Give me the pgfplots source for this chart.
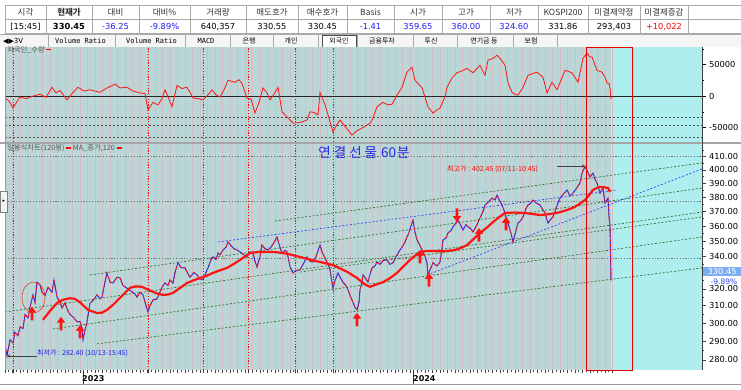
\documentclass[border=0pt]{standalone}
\usepackage{pgfplots}
\pgfplotsset{compat=1.18}
\usetikzlibrary{arrows.meta}
\usepackage{fontspec}
\setmainfont{DejaVu Sans}
\newfontfamily\kr{Noto Sans CJK KR}
\newfontfamily\mono{DejaVu Sans Mono}
\definecolor{bgL}{RGB}{186,214,214}
\definecolor{bgR}{RGB}{175,238,238}
\definecolor{gridp}{RGB}{212,190,198}
\definecolor{pblue}{RGB}{20,40,255}
\definecolor{pred}{RGB}{255,20,20}
\definecolor{gdash}{RGB}{50,115,50}
\definecolor{bdash}{RGB}{50,70,240}
\definecolor{ttl}{RGB}{40,40,230}
\definecolor{hdrtxt}{RGB}{50,50,50}
\definecolor{valblue}{RGB}{30,30,235}
\definecolor{boxblue}{RGB}{125,172,240}
\definecolor{tblc}{RGB}{170,170,170}
\newcommand\tickfont{\fontsize{8.3}{9}\selectfont}
\newcommand\hf{\kr\fontsize{8.5}{9}\selectfont\color{hdrtxt}}
\newcommand\vf{\fontsize{8.3}{9}\selectfont}
\newcommand\tf{\fontsize{7}{8}\selectfont}
\pgfdeclareplotmark{uarr}{%
 \pgfpathmoveto{\pgfpoint{0pt}{0pt}}%
 \pgfpathlineto{\pgfpoint{4.2pt}{-5.8pt}}%
 \pgfpathlineto{\pgfpoint{1.4pt}{-5.8pt}}%
 \pgfpathlineto{\pgfpoint{1.4pt}{-13.5pt}}%
 \pgfpathlineto{\pgfpoint{-1.4pt}{-13.5pt}}%
 \pgfpathlineto{\pgfpoint{-1.4pt}{-5.8pt}}%
 \pgfpathlineto{\pgfpoint{-4.2pt}{-5.8pt}}%
 \pgfpathclose\pgfusepathqfill}
\pgfdeclareplotmark{darr}{%
 \pgfpathmoveto{\pgfpoint{0pt}{0pt}}%
 \pgfpathlineto{\pgfpoint{4.2pt}{5.8pt}}%
 \pgfpathlineto{\pgfpoint{1.4pt}{5.8pt}}%
 \pgfpathlineto{\pgfpoint{1.4pt}{13.5pt}}%
 \pgfpathlineto{\pgfpoint{-1.4pt}{13.5pt}}%
 \pgfpathlineto{\pgfpoint{-1.4pt}{5.8pt}}%
 \pgfpathlineto{\pgfpoint{-4.2pt}{5.8pt}}%
 \pgfpathclose\pgfusepathqfill}
\begin{document}
\begin{tikzpicture}
\path[use as bounding box, fill=white] (0pt,0pt) rectangle (741pt,-389pt);
% ---------- top table ----------
\draw[tblc, line width=0.6pt] (5pt,-5pt) rectangle (741pt,-33pt);
\draw[tblc, line width=0.6pt] (5pt,-19pt) -- (741pt,-19pt);
\foreach \x in {46,92,139,190,246,298,347,394,442,490,538,588,640,688}
  {\draw[tblc, line width=0.6pt] (\x pt,-5pt) -- (\x pt,-33pt);}
\node at (25.5pt,-12pt) {\hf 시각};
\node at (69pt,-12pt) {\hf\bfseries 현재가};
\node at (115.5pt,-12pt) {\hf 대비};
\node at (164.5pt,-12pt) {\hf 대비\%};
\node at (218pt,-12pt) {\hf 거래량};
\node at (272pt,-12pt) {\hf 매도호가};
\node at (322.5pt,-12pt) {\hf 매수호가};
\node at (370.5pt,-12pt) {\hf Basis};
\node at (418pt,-12pt) {\hf 시가};
\node at (466pt,-12pt) {\hf 고가};
\node at (514pt,-12pt) {\hf 저가};
\node at (563pt,-12pt) {\hf KOSPI200};
\node at (614pt,-12pt) {\hf 미결제약정};
\node at (664pt,-12pt) {\hf 미결제증감};
\node at (25.5pt,-26.5pt) {\vf [15:45]};
\node at (69pt,-26.5pt) {\vf\bfseries 330.45};
\node[text=valblue] at (115.5pt,-26.5pt) {\vf -36.25};
\node[text=valblue] at (164.5pt,-26.5pt) {\vf -9.89\%};
\node at (218pt,-26.5pt) {\vf 640,357};
\node at (272pt,-26.5pt) {\vf 330.55};
\node at (322.5pt,-26.5pt) {\vf 330.45};
\node[text=valblue] at (370.5pt,-26.5pt) {\vf -1.41};
\node[text=valblue] at (418pt,-26.5pt) {\vf 359.65};
\node[text=valblue] at (466pt,-26.5pt) {\vf 360.00};
\node[text=valblue] at (514pt,-26.5pt) {\vf 324.60};
\node at (563pt,-26.5pt) {\vf 331.86};
\node at (614pt,-26.5pt) {\vf 293,403};
\node[text=red] at (664pt,-26.5pt) {\vf +10,022};
% ---------- tab row ----------
\fill[black!4] (0pt,-34.5pt) rectangle (741pt,-47pt);
\draw[tblc, line width=0.6pt] (0pt,-34.5pt) -- (741pt,-34.5pt);
\foreach \x in {48,115,185,230,273,318,357,413,457,513,557}
  {\draw[tblc, line width=0.6pt] (\x pt,-35pt) -- (\x pt,-47pt);}
\draw[black!70, fill=white, line width=0.6pt] (322pt,-35.5pt) rectangle (356pt,-47pt);
\node[anchor=west, inner sep=0pt] at (3pt,-41pt) {\tf ◀▶3V};
\node at (80.5pt,-41pt) {\mono\tf Volume Ratio};
\node at (151.5pt,-41pt) {\mono\tf Volume Ratio};
\node at (206pt,-41pt) {\mono\tf MACD};
\node at (249pt,-41pt) {\kr\tf 은행};
\node at (291pt,-41pt) {\kr\tf 개인};
\node at (339pt,-41pt) {\kr\tf 외국인};
\node at (382pt,-41pt) {\kr\tf 금융투자};
\node at (431pt,-41pt) {\kr\tf 투신};
\node at (484pt,-41pt) {\kr\tf 연기금 등};
\node at (531pt,-41pt) {\kr\tf 보험};
% ---------- panel backgrounds ----------
\fill[bgL] (5pt,-47pt) rectangle (611pt,-142pt);
\fill[bgR] (611pt,-47pt) rectangle (702pt,-142pt);
\fill[black!35] (0pt,-142pt) rectangle (741pt,-144pt);
\fill[bgL] (5pt,-144pt) rectangle (611pt,-370pt);
\fill[bgR] (611pt,-144pt) rectangle (702pt,-370pt);
% ---------- upper panel: foreign volume ----------
\begin{axis}[
 at={(5pt,-142pt)}, anchor=south west, scale only axis, width=697pt, height=95pt,
 xmin=5, xmax=702, ymin=-73000, ymax=78000,
 axis line style={draw=none},
 xtick={5,12.5,...,611}, xticklabels={}, xmajorgrids,
 x grid style={gridp, line width=0.55pt},
 xtick style={draw=none},
 extra x ticks={13,148,203,248,295,333}, extra x tick labels={},
 extra x tick style={grid=major, major x grid style={red, dash pattern=on 1.2pt off 1.6pt, line width=0.7pt}},
 ytick={-50000,0,50000}, yticklabels={-50000,0,50000},
 minor ytick={-75000,-25000,25000,75000},
 ytick pos=right, yticklabel pos=right, tick align=outside,
 y tick label style={font=\tickfont, text=black},
 ytick style={black, line width=0.6pt}, major tick length=3.5pt, minor tick length=2pt,
 scaled y ticks=false, clip=true,
]
\addplot[black!70, dash pattern=on 2pt off 2pt, line width=0.5pt] coordinates {(5,-33000) (702,-33000)};
\addplot[black!70, dash pattern=on 2pt off 2pt, line width=0.5pt] coordinates {(5,-46000) (702,-46000)};
\addplot[black!70, dash pattern=on 2pt off 2pt, line width=0.5pt] coordinates {(5,-65000) (702,-65000)};
\addplot[black!85, line width=0.8pt] coordinates {(5,0) (702,0)};
\addplot[pred, line width=0.8pt] coordinates {
(5,-3000) (9,-8000) (13,-19000) (17,-9000) (20,-1500) (26,-4000) (33,0) (40,3000) (46,-2000) (52,14000)
(56,5000) (60,9000) (67,-6000) (72,4000) (78,14000) (84,8000) (90,10000) (100,6000) (106,12000) (115,19000)
(120,13000) (127,14000) (133,8000) (140,5000) (145,4000) (148,-22000) (153,-10000) (158,-14000) (162,-4000)
(165,10000) (169,-5000) (172,-17000) (177,17000) (182,12000) (187,14000) (190,6000) (193,-3000) (198,-4000)
(203,-6000) (208,2000) (212,10000) (216,2000) (220,-1500) (224,10000) (228,25000) (235,22000) (239,26000)
(242,20000) (247,-3000) (251,-5000) (255,-27000) (259,-10000) (263,13000) (267,5000) (270,-6000) (274,3000)
(278,14000) (282,-25000) (287,-33000) (293,-43000) (300,-42000) (307,-38000) (310,-25000) (314,-26000)
(318,-30000) (320,6000) (325,-14000) (329,-35000) (333,-57000) (337,-45000) (340,-38000) (346,-50000)
(352,-62000) (357,-55000) (362,-51000) (366,-47000) (370,-43000) (373,-35000) (377,-17000) (383,-10000)
(388,-14000) (392,-13000) (397,1500) (402,14000) (407,38000) (412,46000) (415,25000) (418,20000) (422,13000)
(428,-17000) (433,-27000) (437,-22000) (440,-19000) (445,-1500) (447,14000) (452,29000) (457,37000)
(462,40000) (467,44000) (473,37000) (480,49000) (485,33000) (488,57000) (493,60000) (497,65000) (501,58000)
(505,49000) (508,21000) (512,6000) (515,3000) (518,1500) (523,14000) (528,33000) (533,36000) (537,38000)
(543,30000) (547,5000) (552,22000) (557,10000) (562,29000) (565,41000) (572,37000) (578,22000) (583,60000)
(587,68000) (590,62000) (592,62000) (597,41000) (602,38000) (605,30000) (607,21000) (609,20000) (610,13000)
(611,-5000)};
\end{axis}
% ---------- lower panel: price ----------
\begin{axis}[
 at={(5pt,-370pt)}, anchor=south west, scale only axis, width=697pt, height=226pt,
 xmin=5, xmax=702, ymode=log, ymin=274.8, ymax=419.9,
 axis line style={draw=none},
 xtick={5,12.5,...,611}, xticklabels={}, xmajorgrids,
 x grid style={gridp, line width=0.55pt},
 minor x tick num=1, xtick pos=left,
 extra x ticks={13,148,203,248,295,333}, extra x tick labels={},
 extra x tick style={grid=major, major x grid style={red, dash pattern=on 1.2pt off 1.6pt, line width=0.7pt}},
 ytick={280,290,...,410},
 yticklabels={280.00,290.00,300.00,310.00,320.00,330.00,340.00,350.00,360.00,370.00,380.00,390.00,400.00,410.00},
 minor ytick={285,295,...,415},
 ytick pos=right, yticklabel pos=right, tick align=outside,
 y tick label style={font=\tickfont, text=black},
 tick style={black!75, line width=0.6pt}, major tick length=3.5pt, minor tick length=2pt,
 clip=true,
]
% horizontal reference lines
\addplot[black!55, dash pattern=on 1.2pt off 1.6pt, line width=0.7pt] coordinates {(5,410) (702,410)};
\addplot[black!55, dash pattern=on 1.2pt off 1.6pt, line width=0.7pt] coordinates {(5,377) (702,377)};
\addplot[black!55, dash pattern=on 1.2pt off 1.6pt, line width=0.7pt] coordinates {(5,338.5) (702,338.5)};
% trend channel lines
\addplot[gdash, dash pattern=on 2pt off 1.8pt, line width=0.7pt] coordinates {(275,363.4) (702,405.2)};
\addplot[gdash, dash pattern=on 2pt off 1.8pt, line width=0.7pt] coordinates {(90,328.4) (702,386.6)};
\addplot[gdash, dash pattern=on 2pt off 1.8pt, line width=0.7pt] coordinates {(5,306.4) (702,369.6)};
\addplot[gdash, dash pattern=on 2pt off 1.8pt, line width=0.7pt] coordinates {(300,330.2) (702,366.2)};
\addplot[gdash, dash pattern=on 2pt off 1.8pt, line width=0.7pt] coordinates {(53,296.8) (702,352.7)};
\addplot[gdash, dash pattern=on 2pt off 1.8pt, line width=0.7pt] coordinates {(97,288.6) (702,332.8)};
\addplot[bdash, dash pattern=on 2pt off 1.8pt, line width=0.7pt] coordinates {(218,349.4) (617,385.2)};
\addplot[bdash, dash pattern=on 2pt off 1.8pt, line width=0.7pt] coordinates {(427,328.4) (702,400.7)};
% price line
\pgfplotstableread{
x y
5 288
7 282.4
10 290.8
13 289
15 295
18 293
20 298
23 297
25 305
28 303
30 309
33 316.4
35 312
37 324
40 322.4
42 318
45 316
48 321
50 319.4
52 318
54 325.4
57 315
60 312
62 308.7
65 311.6
68 307
70 305
74 303
77 300.8
80 301
82 297.4
83 290.8
85 296
87 300.8
90 311.6
93 313
97 316.4
100 314
102 315
105 324
107 329.7
110 324
113 323.5
117 327
120 326.6
123 322
125 321.2
128 320
132 318.2
135 317
137 315
140 318
143 316.4
146 310
148 306.4
150 310
153 313.4
157 314
160 318.2
163 322
165 323.5
168 322
170 325.4
173 323.5
175 330
178 336
181 333
185 332.8
188 329
190 327
194 330
197 328.4
200 326
203 325.4
206 330
208 332.8
211 338
213 339.7
216 338
218 342.2
220 341
223 344.2
226 346
228 349.4
231 347
234 345
237 344.2
240 343
244 341
247 339.7
250 343
253 342
255 337
257 333.4
260 340
262 347.4
265 345
268 344.2
271 346
274 349
277 352.7
280 346
282 342
285 344
287 343
290 333.4
293 329.7
296 331
300 331.6
303 335
307 339.7
310 337
313 336.5
316 340
320 347.4
322 343
325 339
328 335
330 331.6
333 320.6
335 325
338 329.7
341 326
343 324
346 322
348 319.4
350 316
352 313.4
355 309
357 307.6
359 312
360 319.4
362 324
363 328.4
366 326
368 324
370 329
372 332.8
375 334
377 336.5
380 335
384 338
387 337.8
390 335
393 336
396 340
400 344.2
403 347
405 349.4
407 352.7
408 354
411 360
413 364
415 356
417 350.7
420 347
422 344.2
425 340
427 336
428 328.4
431 333
433 336
437 334
440 336.5
442 345
443 350.7
446 352
448 355.3
451 357
453 359.5
456 362
458 364
461 360
463 357.4
466 361
468 359.5
471 358
473 356
477 361
480 365.5
483 370
485 374.5
489 377
492 379.4
495 378
497 381.6
500 377
502 374.5
505 369
508 362
511 355
513 349.4
516 357
518 362
521 364
523 366.2
526 372
528 374.5
531 376
533 378
536 376
540 374.5
543 371
545 369
548 362
550 364
553 366.2
556 372
558 376
560 379.4
563 382
567 385.2
570 381
573 383
577 387
580 390.3
582 397.6
585 402.4
588 398
590 394.7
593 397.6
595 393
597 390.3
600 383
603 386.7
605 375.9
608 379.4
609 366.2
610 360
610.5 342
611 325
}\pricetab
\addplot[pblue, line width=0.9pt] table {\pricetab};
\addplot[pred, line width=0.9pt, dash pattern=on 2.5pt off 2.2pt] table {\pricetab};
% 120-period moving average
\addplot[pred, line width=2.2pt] coordinates {
(43,301.9) (50,307) (57,311.6) (63,313.5) (70,314.4) (75,314) (80,312) (88,307.6) (97,305.8) (102,306)
(107,307.6) (113,310.5) (118,313.4) (124,317) (130,320.6) (136,321.5) (142,321.2) (148,319.5) (153,318.2)
(158,317) (163,316.4) (168,316.6) (173,317.6) (180,320.5) (187,323.5) (193,325) (200,326.6) (207,328)
(213,329.7) (220,331.3) (227,332.8) (233,335) (240,337.8) (245,340) (250,342.2) (258,342.8) (267,343)
(275,342.8) (283,342.2) (292,341) (300,339.7) (310,338) (320,336.5) (327,335.5) (333,334.6) (340,332.5)
(347,330.4) (352,328.5) (357,326.6) (363,323.5) (367,322) (370,321.2) (376,322.5) (383,324) (390,326.5)
(397,329.7) (403,333.5) (410,337.8) (415,340.5) (420,343) (427,343.5) (433,343.6) (440,343.3) (447,343.5)
(455,344.2) (461,345.5) (467,347.4) (473,351) (480,355.3) (487,359) (493,362.7) (499,366) (505,369)
(514,369.2) (523,369) (532,368.3) (540,367.5) (548,368) (557,369) (565,370.5) (573,372.5) (579,375)
(585,378) (589,381.5) (593,385.2) (597,386.8) (600,387.4) (604,387.2) (608,386.7) (610,383.8)};
% signal arrows
\addplot[only marks, mark=uarr, color=pred, mark options={fill=pred, draw=none}] coordinates {
(32,309.4) (61,303.6) (80,299.0) (357,305.9) (420,344.2) (429,329.6) (479,358.6) (506,366.2)};
\addplot[only marks, mark=darr, color=pred, mark options={fill=pred, draw=none}] coordinates {(457,362.8)};
\end{axis}
% ---------- overlays ----------
\draw[black!75, line width=0.7pt] (702pt,-47pt) -- (702pt,-370pt);
\draw[black!40, line width=0.6pt] (5pt,-47pt) -- (5pt,-370pt);
\draw[red!90!black, line width=1pt] (586pt,-47pt) rectangle (632pt,-370pt);
\draw[red!60!brown, line width=0.5pt] (33.5pt,-297.5pt) ellipse (11.5pt and 15.5pt);
\node[anchor=west, inner sep=0pt] at (7pt,-49.5pt) {\kr\fontsize{7.3}{8}\selectfont\color{black!65}외국인\_수량 \textcolor{red}{\rule[1.6pt]{5pt}{1.8pt}}};
\node[anchor=west, inner sep=0pt] at (7pt,-148.5pt) {\kr\fontsize{7.3}{8}\selectfont\color{black!65}일봉식차트(120봉) \textcolor{red}{\rule[1.6pt]{5pt}{1.8pt}} MA\_종가,120 \textcolor{red}{\rule[1.6pt]{5pt}{1.8pt}}};
\node[text=ttl] at (364pt,-152pt) {\kr\fontsize{13.5}{14}\selectfont 연\hspace{3pt}결\hspace{3pt}선\hspace{3pt}물\hspace{4pt}60\hspace{1pt}분};
\node[text=red, anchor=west, inner sep=0pt] at (447pt,-169pt) {\kr\fontsize{7}{8}\selectfont 최고가 : 402.45 (07/11-10:45)};
\draw[black!75, line width=0.6pt, -{Stealth[length=3pt,width=3pt]}] (557pt,-166pt) -- (585pt,-166pt);
\node[text=valblue, anchor=west, inner sep=0pt] at (37pt,-353.5pt) {\kr\fontsize{7}{8}\selectfont 최저가 : 282.40 (10/13-15:45)};
\draw[black!75, line width=0.6pt, -{Stealth[length=3pt,width=3pt]}] (37pt,-356pt) -- (7pt,-356pt);
\node[fill=boxblue, text=white, inner sep=0pt, minimum width=38pt, minimum height=9.5pt, anchor=west] at (703pt,-271.5pt) {\tickfont 330.45};
\node[fill=white, text=bdash, inner sep=0.4pt] at (724pt,-281.6pt) {\fontsize{7.5}{8}\selectfont -9.89\%};
% x labels
\draw[black!80, line width=0.6pt] (83pt,-370pt) -- (83pt,-384pt);
\draw[black!80, line width=0.6pt] (413pt,-370pt) -- (413pt,-384pt);
\node[anchor=west, inner sep=0pt] at (82pt,-379pt) {\fontsize{8}{9}\selectfont\bfseries 2023};
\node[anchor=west, inner sep=0pt] at (413pt,-379pt) {\fontsize{8}{9}\selectfont\bfseries 2024};
\draw[black!40, line width=1pt] (0pt,-384.5pt) -- (741pt,-384.5pt);
\draw[black!50, fill=black!5] (0.5pt,-191pt) rectangle (7.5pt,-212pt);
\node at (4pt,-201.5pt) {\fontsize{5}{6}\selectfont ▸};
\end{tikzpicture}
\end{document}
